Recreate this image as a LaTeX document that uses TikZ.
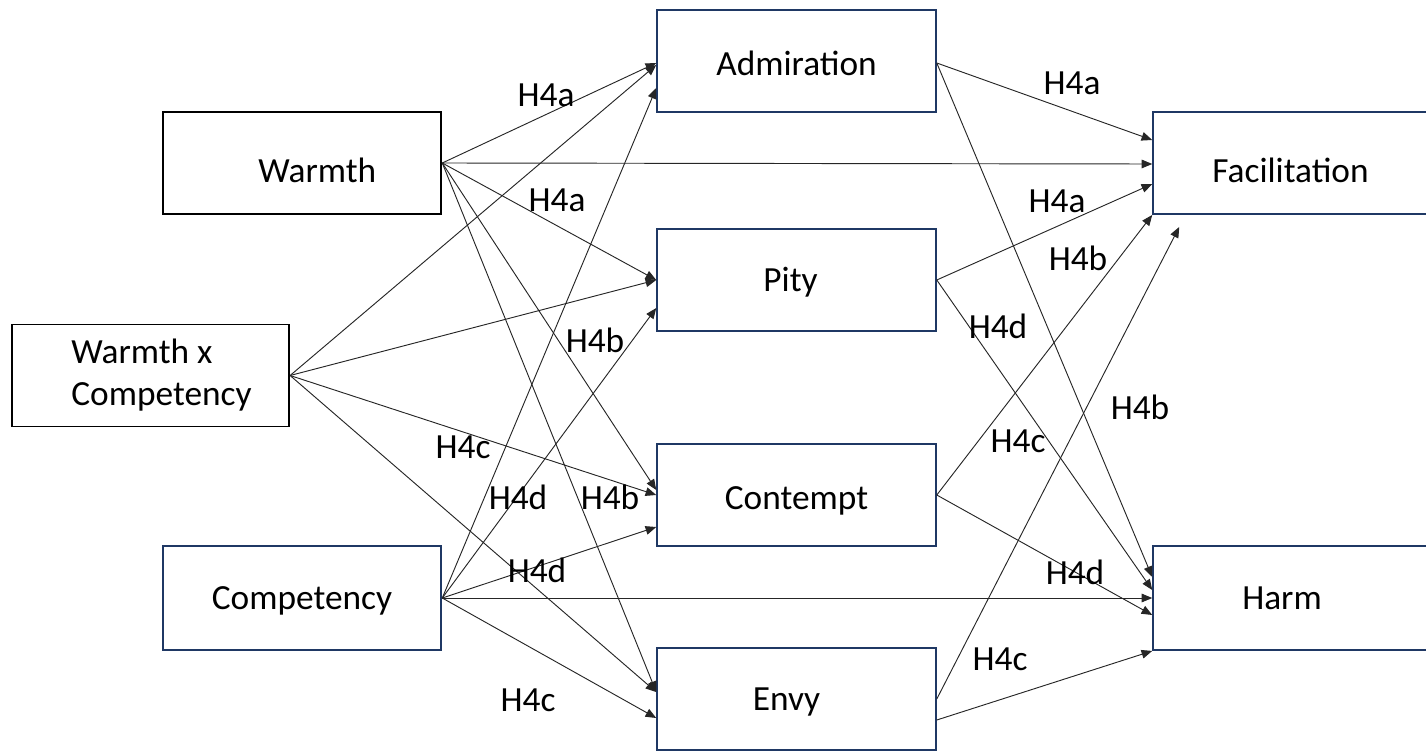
\documentclass[tikz,border=0pt]{standalone}
\usepackage{fontspec}
\setmainfont{Carlito}
\usetikzlibrary{arrows.meta,calc}
\definecolor{boxblue}{RGB}{31,56,100}
\tikzset{
  box/.style={draw=boxblue, line width=1.4pt, fill=white, inner sep=0pt,
    minimum width=209pt, minimum height=76.5pt,
    font=\fontsize{26.5}{31.5}\selectfont},
  blackbox/.style={box, draw=black},
  lift/.style={text height=#1, text depth=0pt},
  lift/.default=17pt,
  path/.style={draw=black!85, line width=0.7pt, -{Triangle[length=8pt,width=6.5pt]}},
  hyp/.style={inner sep=0pt, font=\fontsize{26.5}{31.5}\selectfont}
}
\begin{document}
\begin{tikzpicture}[x=0.75pt,y=-0.75pt]
  \useasboundingbox (0,0) rectangle (1426,752);
  % predictors
  \node[blackbox, lift=29.8pt] (warmth) at (302,163) {\hspace*{23pt}Warmth};
  \node[blackbox, minimum width=208pt, align=left] (wxc) at (150.5,375.5) {\hspace*{16.5pt}Warmth x\\\hspace*{16.5pt}Competency};
  \node[box, lift, minimum height=78pt] (comp) at (302,598) {Competency};
  % emotions
  \node[box, lift=21.5pt] (adm) at (796.5,61) {Admiration};
  \node[box, lift] (pity) at (796.5,280) {Pity\hspace*{9pt}};
  \node[box, lift=21pt] (cont) at (796.5,495) {Contempt};
  \node[box, lift] (envy) at (796.5,699) {Envy\hspace*{15pt}};
  % outcomes
  \node[box, lift=29.8pt, minimum width=206pt] (fac) at (1290.5,163) {Facilitation};
  \node[box, lift, minimum width=206pt, minimum height=78pt] (harm) at (1290.5,598) {Harm\hspace*{12.75pt}};
  \begin{scope}[every path/.style={path}]
    \draw (warmth.east) to ($(adm.west)+(0,2)$);
    \draw (warmth.east) to ($(fac.west)+(0,1)$);
    \draw (warmth.east) to (pity.west);
    \draw (warmth.east) to ($(cont.west)+(0,-5)$);
    \draw (warmth.east) to ($(envy.west)+(0,-7)$);
    \draw (wxc.east) to ($(adm.west)+(0,4)$);
    \draw (wxc.east) to (pity.west);
    \draw (wxc.east) to (cont.west);
    \draw (wxc.east) to ($(envy.west)+(0,-7)$);
    \draw (comp.east) to ($(adm.west)+(0,27)$);
    \draw (comp.east) to ($(pity.west)+(0,28)$);
    \draw (comp.east) to ($(cont.west)+(0,32)$);
    \draw (comp.east) to (harm.west);
    \draw (comp.east) to ($(envy.west)+(0,19)$);
    \draw ($(adm.east)+(0,2)$) to ($(fac.west)+(0,-23)$);
    \draw ($(adm.east)+(0,2)$) to ($(harm.west)+(0,-21)$);
    \draw (pity.east) to ($(fac.west)+(0,21)$);
    \draw (pity.east) to ($(harm.west)+(0,-8)$);
    \draw (cont.east) to (fac.south west);
    \draw (cont.east) to ($(harm.west)+(0,17)$);
    \draw (envy.east) to ($(fac.south west)+(27,12)$);
    \draw ($(envy.east)+(0,21)$) to (harm.south west);
  \end{scope}
  % hypothesis labels
  \node[hyp] (h1) at (546,95) {H4a};
  \node[hyp] (h2) at (557,200) {H4a};
  \node[hyp] (h3) at (595,340) {H4b};
  \node[hyp] (h4) at (463,447) {H4c};
  \node[hyp] (h5) at (518,497) {H4d};
  \node[hyp] (h6) at (610,497) {H4b};
  \node[hyp] (h7) at (537,570) {H4d};
  \node[hyp] (h8) at (528,700) {H4c};
  \node[hyp] (h9) at (1072,83) {H4a};
  \node[hyp] (h10) at (1057,201) {H4a};
  \node[hyp] (h11) at (1078,258) {H4b};
  \node[hyp] (h12) at (998,326) {H4d};
  \node[hyp] (h13) at (1140,407) {H4b};
  \node[hyp] (h14) at (1018,441) {H4c};
  \node[hyp] (h15) at (1075,572) {H4d};
  \node[hyp] (h16) at (1000,659) {H4c};
\end{tikzpicture}
\end{document}
